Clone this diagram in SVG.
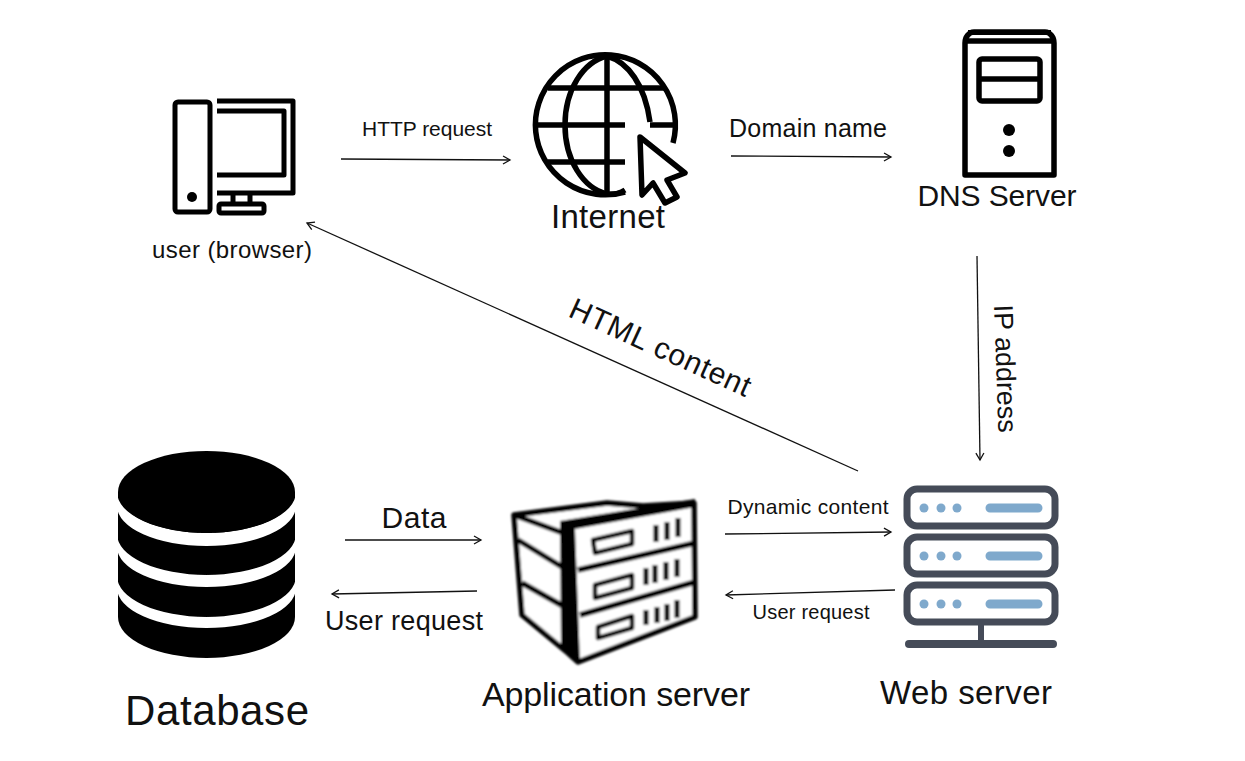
<svg xmlns="http://www.w3.org/2000/svg" width="1245" height="761" viewBox="0 0 1245 761">
<style>
text{font-family:"Liberation Sans",Arial,sans-serif;fill:#111}
.ln{fill:none;stroke:#000;stroke-width:5;stroke-linejoin:round;stroke-linecap:butt}
.gl{fill:none;stroke:#000;stroke-width:5.500;stroke-linejoin:round;stroke-linecap:butt}
.th{fill:none;stroke:#000;stroke-width:4.500;stroke-linejoin:round}
.srv{fill:#fff;stroke:#444c59;stroke-width:7}
.led{fill:#7fa9cc}
.bar{stroke:#7fa9cc;stroke-width:9;stroke-linecap:round}
.c{fill:none;stroke:#111;stroke-width:1.300;marker-end:url(#ah)}
</style>
<defs>
<marker id="ah" markerUnits="userSpaceOnUse" markerWidth="12" markerHeight="10" refX="8" refY="5" orient="auto">
<path d="M1 1 L8 5 L1 9" fill="none" stroke="#111" stroke-width="1.300"/>
</marker>
<filter id="soft" x="-5%" y="-5%" width="110%" height="110%"><feGaussianBlur stdDeviation="0.7"/></filter>
<filter id="crisp" x="-5%" y="-5%" width="110%" height="110%"><feGaussianBlur stdDeviation="0.4"/></filter>
<filter id="softer" x="-5%" y="-5%" width="110%" height="110%"><feGaussianBlur stdDeviation="1"/></filter>
</defs>
<rect width="1245" height="761" fill="#fff"/>

<g id="connectors">
<path class="c" d="M341 159L510 160"/>
<path class="c" d="M731 156L891 157"/>
<path class="c" d="M977 256L980 460"/>
<path class="c" d="M858 471L307 223"/>
<path class="c" d="M345 540L481 540"/>
<path class="c" d="M477 591L332 594"/>
<path class="c" d="M725 534L891 532"/>
<path class="c" d="M895 590L726 595"/>
<text x="427" y="136" font-size="21" text-anchor="middle" textLength="130">HTTP request</text>
<text x="808" y="137" font-size="25" text-anchor="middle" textLength="158">Domain name</text>
<text transform="translate(567 316) rotate(24.500)" font-size="30" textLength="196">HTML content</text>
<text transform="translate(994 305) rotate(88)" font-size="27" textLength="128">IP address</text>
<text x="414" y="528" font-size="30" text-anchor="middle" textLength="65">Data</text>
<text x="404" y="630" font-size="27" text-anchor="middle" textLength="158">User request</text>
<text x="808" y="514" font-size="21" text-anchor="middle" textLength="161">Dynamic content</text>
<text x="811" y="619" font-size="20" text-anchor="middle" textLength="117">User request</text>
</g>

<g id="user-browser">
<g filter="url(#soft)">
<rect class="ln" x="175" y="102" width="35" height="110" rx="3"/>
<path class="ln" d="M217 101H293V193H217"/>
<path class="ln" d="M217 111H284V175H217"/>
<circle cx="192" cy="197" r="5"/>
<path class="ln" d="M233 193V203M250 193V203"/>
<rect class="ln" x="219" y="204" width="45" height="9" rx="2"/>
</g>
<text x="232" y="258" font-size="24" text-anchor="middle" textLength="160">user (browser)</text>
</g>

<g id="internet">
<g filter="url(#soft)">
<path class="gl" d="M673 143A70 70 0 1 0 625 192"/>
<path class="gl" d="M607 56C583 62 565 90 565 125C565 160 583 188 607 194C613 195 620 193 625 190"/>
<path class="gl" d="M607 56C628 62 645 85 650 122"/>
<path class="gl" d="M607 55V195M548 88H665M537 125H625M650 125H675M548 162H625"/>
<path class="gl" fill="#fff" d="M640 137L685 173L667 180L677 197L665 203L653 183L642 195Z"/>
</g>
<text x="608" y="228" font-size="33" text-anchor="middle" textLength="114">Internet</text>
</g>

<g id="dns-server">
<g filter="url(#soft)">
<path class="gl" d="M965 175V43C965 37 969 32 974 32H1045C1050 32 1054 37 1054 43V175Z"/>
<path class="gl" d="M965 41H1054"/>
<path d="M968 30H1051V35H968Z"/>
<rect class="gl" x="979" y="59" width="61" height="42" rx="3"/>
<path class="gl" d="M979 79H1040"/>
<circle cx="1009" cy="130" r="6"/>
<circle cx="1009" cy="151" r="6"/>
</g>
<text x="997" y="206" font-size="30" text-anchor="middle" textLength="159">DNS Server</text>
</g>

<g id="web-server">
<g filter="url(#soft)">
<rect class="srv" x="907" y="489" width="148" height="37" rx="10"/>
<rect class="srv" x="907" y="537" width="148" height="37" rx="10"/>
<rect class="srv" x="907" y="585" width="148" height="37" rx="10"/>
<circle class="led" cx="924" cy="508" r="4.500"/><circle class="led" cx="941" cy="508" r="4.500"/><circle class="led" cx="957" cy="508" r="4.500"/>
<circle class="led" cx="924" cy="556" r="4.500"/><circle class="led" cx="941" cy="556" r="4.500"/><circle class="led" cx="957" cy="556" r="4.500"/>
<circle class="led" cx="924" cy="604" r="4.500"/><circle class="led" cx="941" cy="604" r="4.500"/><circle class="led" cx="957" cy="604" r="4.500"/>
<path class="bar" d="M990 508H1038M990 556H1038M990 604H1038"/>
<path d="M981 623V642" stroke="#444c59" stroke-width="6"/>
<path d="M909 644H1053" stroke="#444c59" stroke-width="8" stroke-linecap="round"/>
</g>
<text x="966" y="704" font-size="33" text-anchor="middle" textLength="172">Web server</text>
</g>

<g id="application-server">
<g filter="url(#softer)">
<path fill="#fff" stroke="#000" stroke-width="5.500" stroke-linejoin="round" d="M514 515L607 503L643 506L694 503L695 617L578 662L568 653L522 615Z"/>
<path d="M560 521L695 499V507L575 529L580 662L568 656L561 645Z"/>
<path class="gl" d="M514 515L563 533M518 540L567 570M522 583L570 610M578 570L695 543M580 615L695 582"/>
<path class="th" d="M593 540L632 531V544L595 553ZM595 585L632 575V588L595 598ZM598 627L632 616V628L598 638Z"/>
<path class="ln" d="M656 525V542M667 522V540M678 518V537M646 568V585M655 565V583M666 562V580M677 559V577M646 610V625M657 607V623M667 604V621M677 600V618"/>
</g>
<text x="616" y="706" font-size="34" text-anchor="middle" textLength="268">Application server</text>
</g>

<g id="database">
<g filter="url(#crisp)">
<path d="M118 492H295V617A88.500 41 0 0 1 118 617Z"/>
<path fill="#fff" d="M117 492A89.500 41 0 0 0 296 492V506A89.500 40 0 0 1 117 506Z"/>
<path fill="#fff" d="M117 534A89.500 41 0 0 0 296 534V547A89.500 40 0 0 1 117 547Z"/>
<path fill="#fff" d="M117 576A89.500 41 0 0 0 296 576V588A89.500 40 0 0 1 117 588Z"/>
<ellipse cx="206.500" cy="492" rx="88.500" ry="41"/>
</g>
<text x="217" y="725" font-size="42" text-anchor="middle" textLength="184">Database</text>
</g>
</svg>
